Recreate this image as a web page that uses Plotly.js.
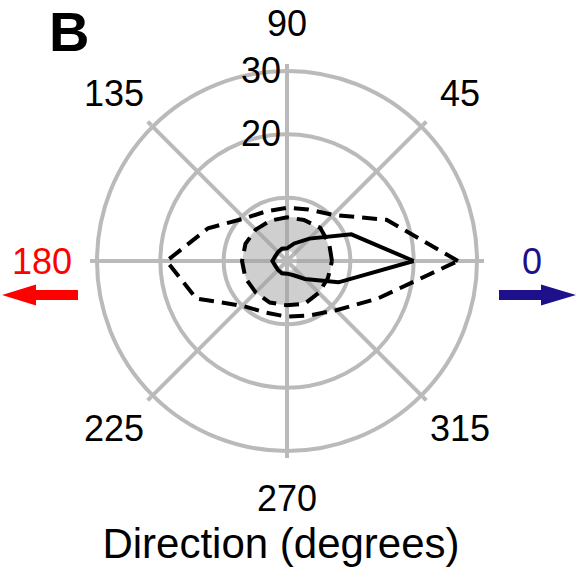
<!DOCTYPE html>
<html>
<head>
<meta charset="utf-8">
<script src="https://cdn.plot.ly/plotly-3.0.1.min.js"></script>
<style>html,body{margin:0;padding:0;background:#fff}#chart{width:577px;height:580px}</style>
</head>
<body>
<div id="chart"></div>
<script>
// Directions (degrees)
var directions = [0, 22.5, 45, 67.5, 90, 112.5, 135, 157.5, 180, 202.5, 225, 247.5, 270, 292.5, 315, 337.5];
// Solid curve
var solidR = [20, 11, 5, 3, 2.0, 2.1, 2.0, 2.0, 2.3, 2.0, 2.0, 2.1, 2.0, 2.4, 4, 8.8];
// Outer dashed curve
var outerDashR = [27, 17, 10.3, 8.8, 8.4, 8.5, 9.5, 13.5, 19, 15.5, 10, 8.8, 8.8, 9.3, 11, 15.5];
// Inner dashed curve
var innerDashR = [7.1, 7.2, 7.4, 7.0, 6.9, 6.9, 7.0, 7.1, 7.1, 7.1, 7.0, 7.1, 7.0, 7.3, 7.1, 7.0];
// Grey band (8 sectors)
var bandTheta = [22.5, 67.5, 112.5, 157.5, 202.5, 247.5, 292.5, 337.5];
var bandInner = [1.6, 1.6, 1.6, 1.6, 1.6, 1.6, 1.6, 1.6];
var bandOuter = [7, 7, 7, 7, 7, 7, 7, 7];
// Angular tick labels
var angTickVals = [0, 45, 90, 135, 180, 225, 270, 315];
var angTickText = ['0', '45', '90', '135', '180', '225', '270', '315'];
var angTickColor = ['#1e0f8a', '#000', '#000', '#000', '#ff0000', '#000', '#000', '#000'];
// Radial ticks
var radTickVals = [10, 20, 30];
var radTickText = ['', '20', '30'];

function closeLoop(a, last) { return a.concat([last === undefined ? a[0] : last]); }

var W = 577, H = 580, cx = 287, cy = 261, R = 190;
var labelRx = 245, labelRy = 237;
var grid = '#bababa';
var font = 'Liberation Sans, Arial, sans-serif';

var traces = [
  {
    type: 'barpolar',
    theta: bandTheta,
    base: bandInner,
    r: bandOuter.map(function (v, i) { return v - bandInner[i]; }),
    width: bandTheta.map(function () { return 45; }),
    marker: { color: 'rgba(160,160,160,0.5)', line: { width: 0 } },
    hoverinfo: 'skip', showlegend: false
  },
  {
    type: 'scatterpolar', mode: 'lines',
    r: closeLoop(outerDashR), theta: closeLoop(directions, 360),
    line: { color: '#000', width: 4, dash: '15px,8px' }, showlegend: false
  },
  {
    type: 'scatterpolar', mode: 'lines',
    r: closeLoop(innerDashR), theta: closeLoop(directions, 360),
    line: { color: '#000', width: 4, dash: '15px,8px' }, showlegend: false
  },
  {
    type: 'scatterpolar', mode: 'lines',
    r: closeLoop(solidR), theta: closeLoop(directions, 360),
    line: { color: '#000', width: 4 }, showlegend: false
  }
];

var annotations = angTickVals.map(function (a, i) {
  var rad = a * Math.PI / 180;
  return {
    text: angTickText[i], xref: 'paper', yref: 'paper',
    x: (cx + labelRx * Math.cos(rad)) / W, y: 1 - (cy - labelRy * Math.sin(rad)) / H,
    xanchor: 'center', yanchor: 'middle', showarrow: false,
    font: { size: 36, family: font, color: angTickColor[i] }
  };
});
annotations.push({
  text: '<b>B</b>', xref: 'paper', yref: 'paper', x: 68.7 / W, y: 1 - 31 / H,
  xanchor: 'center', yanchor: 'middle', showarrow: false, height: 56,
  font: { size: 56, family: font, color: '#000' }
});

var layout = {
  width: W, height: H,
  margin: { l: 0, r: 0, t: 0, b: 0 },
  paper_bgcolor: '#fff',
  showlegend: false,
  font: { family: font, color: '#000' },
  polar: {
    domain: { x: [(cx - R) / W, (cx + R) / W], y: [1 - (cy + R) / H, 1 - (cy - R) / H] },
    bgcolor: 'rgba(0,0,0,0)',
    radialaxis: {
      range: [0, 30], angle: 90, side: 'counterclockwise',
      tickvals: radTickVals, ticktext: radTickText,
      showline: false, ticks: '', gridcolor: grid, gridwidth: 4,
      tickfont: { size: 36, family: font, color: '#000' }, tickangle: 90
    },
    angularaxis: {
      tickvals: angTickVals, showticklabels: false,
      ticks: 'outside', ticklen: 5, tickwidth: 4, tickcolor: grid,
      showline: true, linecolor: grid, linewidth: 4,
      gridcolor: grid, gridwidth: 4
    }
  },
  title: {
    text: 'Direction (degrees)',
    font: { size: 42, family: font, color: '#000' },
    x: 0.487, xanchor: 'center', y: 0.064, yanchor: 'middle'
  },
  annotations: annotations,
  shapes: [
    { type: 'line', xref: 'paper', yref: 'paper', x0: 33 / W, x1: 78 / W, y0: 1 - 295 / H, y1: 1 - 295 / H,
      line: { color: '#ff0000', width: 10 } },
    { type: 'path', xref: 'paper', yref: 'paper',
      path: 'M ' + (2 / W) + ' ' + (1 - 295 / H) + ' L ' + (36 / W) + ' ' + (1 - 284.5 / H) + ' L ' + (36 / W) + ' ' + (1 - 305.5 / H) + ' Z',
      fillcolor: '#ff0000', line: { width: 0 } },
    { type: 'line', xref: 'paper', yref: 'paper', x0: 499 / W, x1: 544 / W, y0: 1 - 295 / H, y1: 1 - 295 / H,
      line: { color: '#1e0f8a', width: 10 } },
    { type: 'path', xref: 'paper', yref: 'paper',
      path: 'M ' + (576 / W) + ' ' + (1 - 295 / H) + ' L ' + (541 / W) + ' ' + (1 - 284.5 / H) + ' L ' + (541 / W) + ' ' + (1 - 305.5 / H) + ' Z',
      fillcolor: '#1e0f8a', line: { width: 0 } }
  ]
};

Plotly.newPlot('chart', traces, layout, { staticPlot: true, displayModeBar: false });
</script>
</body>
</html>
